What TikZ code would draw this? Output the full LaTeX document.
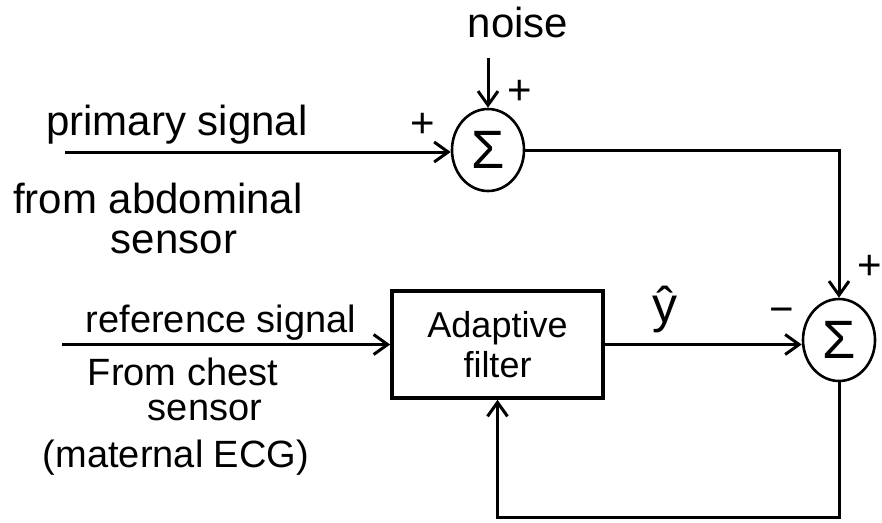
\documentclass[tikz,border=0pt]{standalone}
\usepackage{fontspec}
\setmainfont{Liberation Sans}
\usetikzlibrary{arrows.meta,shapes.geometric}

\begin{document}
\begin{tikzpicture}[x=1pt,y=-1pt,
  lbl/.style={anchor=base,inner sep=0pt,font=\fontsize{42}{48}\selectfont},
  lbls/.style={anchor=base,inner sep=0pt,font=\fontsize{38}{44}\selectfont},
  sgn/.style={inner sep=0pt,font=\fontsize{42}{44}\selectfont},
  sumnode/.style={draw,ellipse,line width=2.6pt,minimum width=72pt,minimum height=82pt,inner sep=0pt,font=\fontsize{54}{56}\selectfont},
  blk/.style={draw,line width=3.6pt,minimum width=211pt,minimum height=107pt,align=center,font=\fontsize{36}{40}\selectfont},
  wire/.style={line width=3pt},
  sig/.style={wire,-{Straight Barb[length=14pt,width=20pt]}}
]
\useasboundingbox (0,0) rectangle (882,522);

\node[sumnode] (s1) at (488,150) {Σ};
\node[sumnode] (s2) at (839,340) {Σ};
\node[blk] (af) at (497.5,344.5) {Adaptive\\filter};

\node[lbl] (noise) at (518,37) {noise};
\node[lbl] (prim) at (177,135) {primary signal};
\node[lbl] (abd) at (158,213) {from abdominal};
\node[lbl] (sen1) at (174,253) {sensor};
\node[lbls] (ref) at (221,332) {reference signal};
\node[lbls] (chest) at (183,385) {From chest};
\node[lbls] (sen2) at (205,420) {sensor};
\node[lbls] (ecg) at (176,467) {(maternal ECG)};

\node[sgn] (pn) at (520,92) {+};
\node[sgn] (pp) at (423,125) {+};
\node[sgn] (p2) at (870,267) {+};
\node[sgn] (m2) at (782,316) {−};
\node[inner sep=0pt,font=\fontsize{50}{52}\selectfont] (yhat) at (665,309) {ŷ};

\coordinate (pin) at (65,152);
\coordinate (nin) at (488,58);
\coordinate (rin) at (62,344.5);

\draw[sig] (pin) -- (pin -| s1.west);
\draw[sig] (nin) -- (s1.north);
\draw[sig] (s1.east) -- (s1.east -| s2.north) -- (s2.north);
\draw[sig] (rin) -- (af.west);
\draw[sig] (af.east) -- (af.east -| s2.west);
\draw[sig] (s2.south) -- (s2.south |- 0,517) -- (af.south |- 0,517) -- (af.south);
\end{tikzpicture}
\end{document}
